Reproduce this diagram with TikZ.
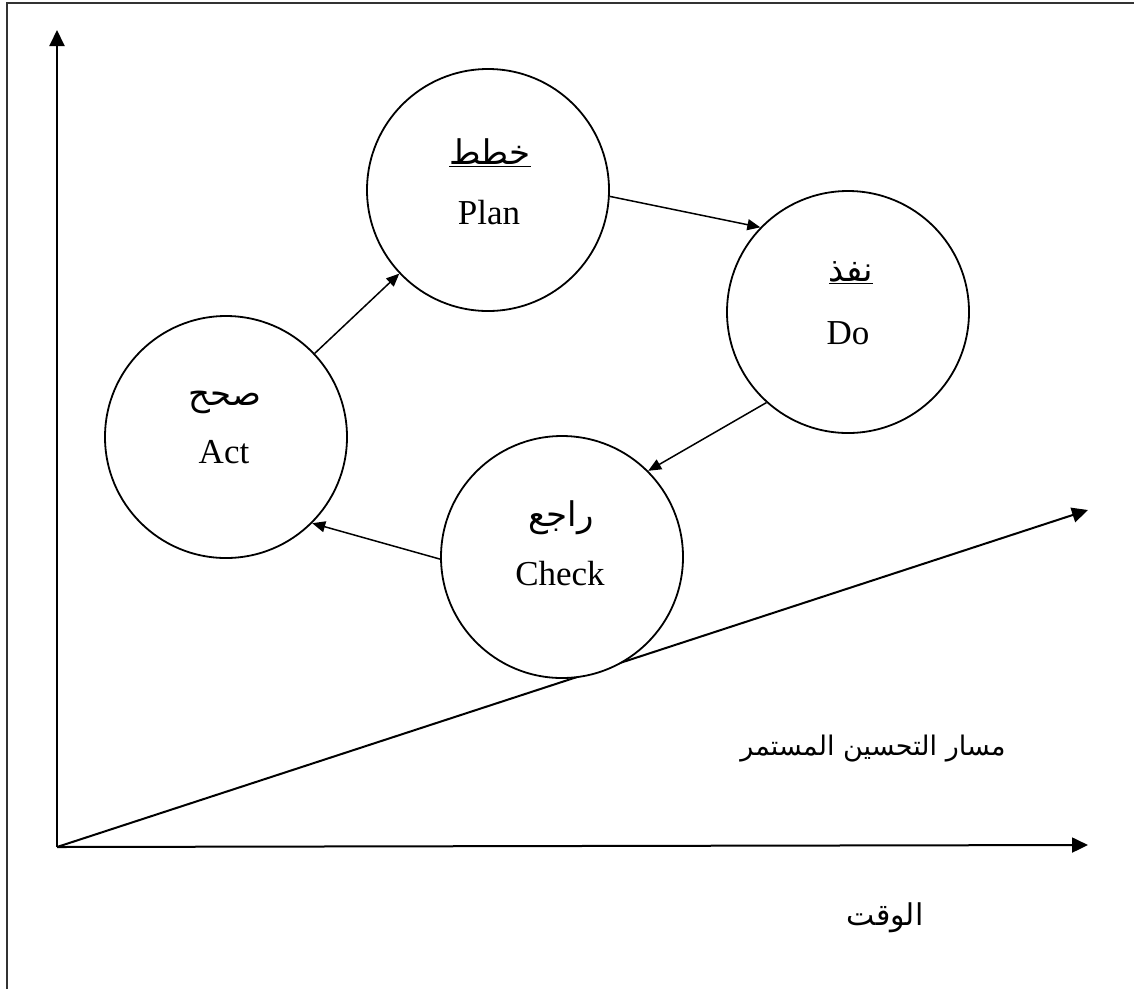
\documentclass[tikz,border=0pt]{standalone}
\usepackage{fontspec}
\setmainfont{Liberation Serif}
\newfontfamily\arabicfont[Script=Arabic]{DejaVu Sans}
\TeXXeTstate=1
\usetikzlibrary{arrows.meta}
\tikzset{
  stage/.style={draw, circle, line width=1.8pt, minimum size=242pt, inner sep=0pt},
  axis/.style={line width=2pt, -{Triangle[length=16pt,width=15pt]}},
  flow/.style={line width=1.5pt, -{Triangle[length=13pt,width=11pt]}},
  entxt/.style={inner sep=0pt, font=\fontsize{35}{40}\selectfont},
  artxt/.style={inner sep=0pt, font=\arabicfont\fontsize{34}{40}\selectfont},
  bottxt/.style={inner sep=0pt, font=\arabicfont\fontsize{30}{36}\selectfont},
}
\begin{document}
\begin{tikzpicture}[x=1pt,y=-1pt]
\useasboundingbox (0,0) rectangle (1134,989);
\coordinate (fbl) at (7,989);
\coordinate (ftl) at (7,3);
\coordinate (ftr) at (1134,3);
\draw[line width=2pt, black!80] (fbl) -- (ftl) -- (ftr);

\coordinate (O) at (57,847);
\coordinate (ytip) at (57,30);
\coordinate (xtip) at (1088,845);
\coordinate (dtip) at (1088,510);
\draw[axis] (O) -- (ytip);
\draw[axis] (O) -- (xtip);
\draw[axis] (O) -- (dtip);

\node[stage] (plan) at (488,190) {};
\node[stage] (do) at (848,312) {};
\node[stage] (act) at (226,437) {};
\node[stage,fill=white] (check) at (562,557) {};

\node[artxt] (planar) at (490,153) {\underline{\beginR خطط\endR}};
\node[entxt] (planen) at (489,213) {Plan};
\node[artxt] (doar) at (851,273) {\underline{\beginR نفذ\endR}};
\node[entxt] (doen) at (848,333) {Do};
\node[artxt] (actar) at (225,402) {\beginR صحح\endR};
\node[entxt] (acten) at (224,452) {Act};
\node[artxt] (checkar) at (561,518) {\beginR راجع\endR};
\node[entxt] (checken) at (560,574) {Check};

\draw[flow] (act) -- (plan);
\draw[flow] (plan.-3) -- (do.136);
\draw[flow] (do.228) -- (check.45);
\draw[flow] (check.181) -- (act.-45);

\node[bottxt, font=\arabicfont\fontsize{27}{32}\selectfont] (path) at (873,749) {\beginR مسار التحسين المستمر\endR};
\node[bottxt] (time) at (885,918) {\beginR الوقت\endR};
\end{tikzpicture}
\end{document}
